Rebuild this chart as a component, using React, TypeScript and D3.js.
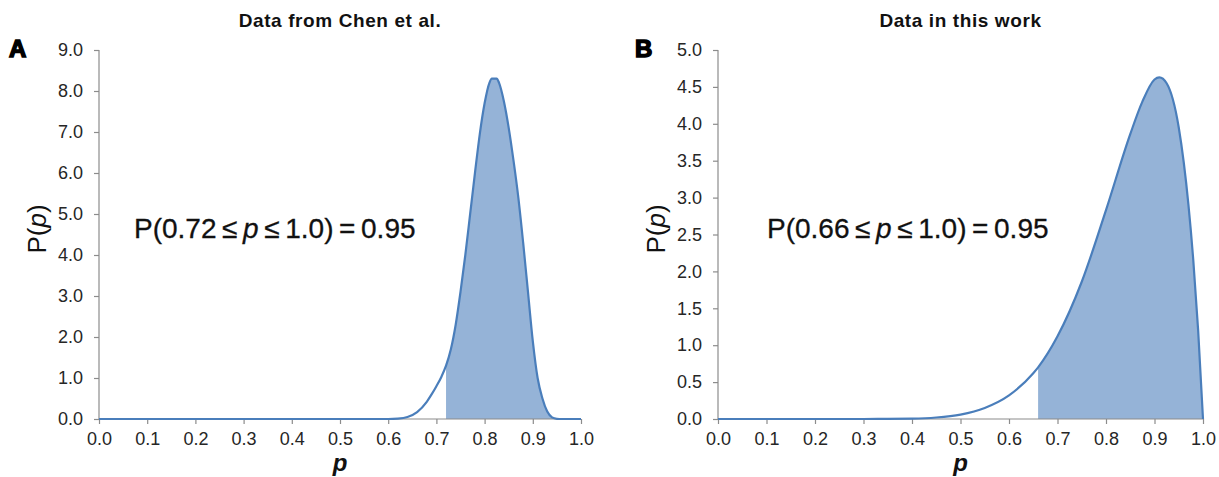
import React, { useEffect, useRef } from "react";
import * as d3 from "d3";

// ---- Data ----
const pA = [0, 0.1, 0.2, 0.3, 0.4, 0.5, 0.6, 0.62, 0.64, 0.66, 0.68, 0.69, 0.7, 0.71, 0.72, 0.73, 0.74, 0.75, 0.76, 0.77, 0.78, 0.79, 0.8, 0.81, 0.815, 0.825, 0.83, 0.84, 0.85, 0.86, 0.87, 0.88, 0.89, 0.9, 0.91, 0.92, 0.93, 0.94, 0.95, 0.96, 1.0];
const vA = [0, 0, 0, 0, 0, 0, 0, 0.01, 0.05, 0.17, 0.42, 0.6, 0.8, 1.02, 1.3, 1.7, 2.3, 3.1, 4.0, 5.0, 6.0, 6.95, 7.7, 8.2, 8.3, 8.3, 8.2, 7.75, 7.1, 6.3, 5.4, 4.3, 3.1, 1.9, 1.0, 0.5, 0.18, 0.04, 0.005, 0, 0];

const pB = [0, 0.1, 0.2, 0.3, 0.35, 0.4, 0.45, 0.5, 0.55, 0.6, 0.65, 0.66, 0.7, 0.75, 0.8, 0.85, 0.875, 0.9, 0.91, 0.925, 0.95, 0.97, 0.98, 0.99, 1.0];
const vB = [0, 0, 0, 0, 0.002, 0.005, 0.02, 0.06, 0.15, 0.32, 0.62, 0.7, 1.12, 1.86, 2.83, 3.86, 4.3, 4.6, 4.63, 4.55, 3.95, 2.9, 2.15, 1.2, 0];

const xTicks = [0, 0.1, 0.2, 0.3, 0.4, 0.5, 0.6, 0.7, 0.8, 0.9, 1.0];
const yTicksA = [0, 1, 2, 3, 4, 5, 6, 7, 8, 9];
const yTicksB = [0, 0.5, 1, 1.5, 2, 2.5, 3, 3.5, 4, 4.5, 5];

const titles = ["Data from Chen et al.", "Data in this work"];
const letters = ["A", "B"];
const lowerBounds = [0.72, 0.66];
const lowerLabels = ["0.72", "0.66"];
const probability = "0.95";

const panels = [
  { p: pA, v: vA, yMax: 9, yTicks: yTicksA, x0: 99, x1: 581, letterX: 9 },
  { p: pB, v: vB, yMax: 5, yTicks: yTicksB, x0: 718, x1: 1203, letterX: 635 },
];

const LINE = "#4a7ebb";
const FILL = "#95b3d7";
const AXIS = "#8c8c8c";
const FONT = "Arial, 'Liberation Sans', sans-serif";

export default function App() {
  const ref = useRef<SVGSVGElement | null>(null);

  useEffect(() => {
    const svg = d3.select(ref.current);
    svg.selectAll("*").remove();
    const yTop = 50;
    const yBot = 419;

    panels.forEach((pn, i) => {
      const x = d3.scaleLinear().domain([0, 1]).range([pn.x0, pn.x1]);
      const y = d3.scaleLinear().domain([0, pn.yMax]).range([yBot, yTop]);
      const g = svg.append("g");
      const pts = pn.p.map((p, k) => [p, pn.v[k]] as [number, number]);

      // shaded area
      const shade = pts.filter((d) => d[0] >= lowerBounds[i] - 1e-9);
      const area = d3
        .area<[number, number]>()
        .x((d) => x(d[0]))
        .y0(y(0))
        .y1((d) => y(d[1]))
        .curve(d3.curveMonotoneX);
      g.append("path").attr("d", area(shade)).attr("fill", FILL);

      // axes
      const xa = g
        .append("g")
        .attr("transform", `translate(0,${yBot})`)
        .call(
          d3
            .axisBottom(x)
            .tickValues(xTicks)
            .tickSize(5)
            .tickPadding(8)
            .tickFormat(d3.format(".1f"))
        );
      const ya = g
        .append("g")
        .attr("transform", `translate(${pn.x0},0)`)
        .call(
          d3
            .axisLeft(y)
            .tickValues(pn.yTicks)
            .tickSize(5)
            .tickPadding(11)
            .tickFormat(d3.format(".1f"))
        );
      [xa, ya].forEach((a) => {
        a.select(".domain").attr("stroke", AXIS).attr("stroke-width", 1.2);
        a.selectAll(".tick line").attr("stroke", AXIS).attr("stroke-width", 1.2);
        a.selectAll(".tick text")
          .attr("fill", "#262626")
          .style("font-family", FONT)
          .style("font-size", "18px");
      });
      xa.select(".domain").attr("d", `M${pn.x0},0H${pn.x1}`);
      ya.select(".domain").attr("d", `M0,${yBot}V${yTop}`);

      // curve
      const line = d3
        .line<[number, number]>()
        .x((d) => x(d[0]))
        .y((d) => y(d[1]))
        .curve(d3.curveMonotoneX);
      g.append("path")
        .attr("d", line(pts))
        .attr("fill", "none")
        .attr("stroke", LINE)
        .attr("stroke-width", 2.2);

      const cx = (pn.x0 + pn.x1) / 2;
      // title
      g.append("text")
        .attr("x", cx)
        .attr("y", 27)
        .attr("text-anchor", "middle")
        .style("font-family", FONT)
        .style("font-weight", "bold")
        .style("font-size", "19px")
        .style("letter-spacing", "0.6px")
        .attr("fill", "#111")
        .text(titles[i]);
      // letter
      g.append("text")
        .attr("x", pn.letterX)
        .attr("y", 57)
        .style("font-family", FONT)
        .style("font-weight", "bold")
        .style("font-size", "24px")
        .attr("stroke", "#000")
        .attr("stroke-width", 1.5)
        .attr("fill", "#000")
        .text(letters[i]);
      // x label
      g.append("text")
        .attr("x", cx)
        .attr("y", 471)
        .attr("text-anchor", "middle")
        .style("font-family", FONT)
        .style("font-weight", "bold")
        .style("font-style", "italic")
        .style("font-size", "24px")
        .attr("fill", "#111")
        .text("p");
      // y label
      const yl = g
        .append("text")
        .attr("transform", `translate(${pn.x0 - 53},229) rotate(-90)`)
        .attr("text-anchor", "middle")
        .style("font-family", FONT)
        .style("font-size", "26px")
        .attr("fill", "#111");
      yl.append("tspan").text("P(");
      yl.append("tspan").style("font-style", "italic").text("p");
      yl.append("tspan").text(")");

      // annotation
      const ann = g
        .append("text")
        .attr("x", pn.x0 + 35 + (i === 1 ? 14 : 0))
        .attr("y", 238)
        .style("font-family", FONT)
        .style("font-size", "28px")
        .style("letter-spacing", "0px")
        .attr("stroke", "#111")
        .attr("stroke-width", 0.3)
        .attr("fill", "#111");
      ann.append("tspan").text(`P(${lowerLabels[i]}\u2009\u2264\u2009`);
      ann.append("tspan").style("font-style", "italic").text("p");
      ann.append("tspan").text(`\u2009\u2264\u20091.0)\u2009=\u2009${probability}`);
    });
  }, []);

  return (
    <svg
      ref={ref}
      width={1219}
      height={477}
      style={{ position: "absolute", left: 0, top: 0, background: "#fff" }}
    />
  );
}
